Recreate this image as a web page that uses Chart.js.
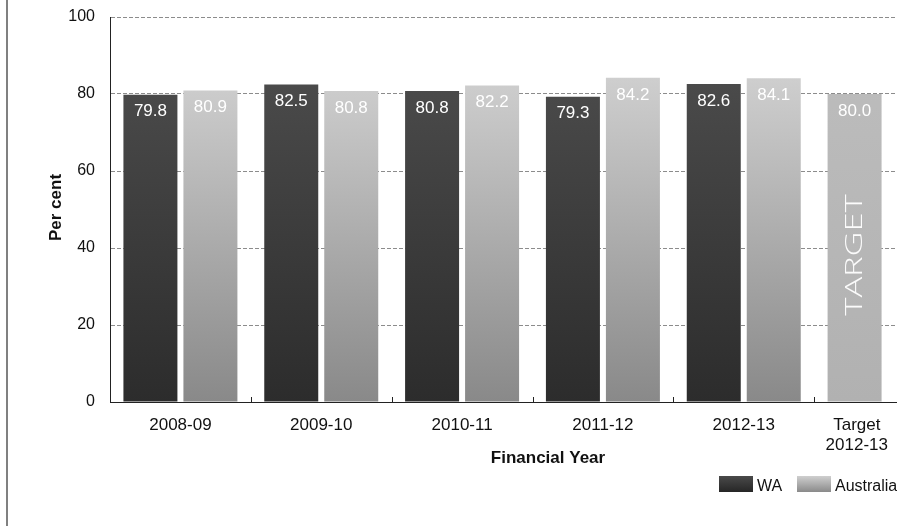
<!DOCTYPE html>
<html>
<head>
<meta charset="utf-8">
<script src="https://cdn.jsdelivr.net/npm/chart.js@4/dist/chart.umd.min.js"></script>
<style>
  html, body { margin: 0; padding: 0; background: #fff; overflow: hidden; width: 897px; height: 526px; }
  #wrap { position: relative; width: 955px; height: 526px; }
</style>
</head>
<body>
<div id="wrap"><canvas id="c" width="955" height="526"></canvas></div>
<script>
// Financial years on the category axis (last one is the 2012-13 target)
const categories = ['2008-09', '2009-10', '2010-11', '2011-12', '2012-13', ['Target', '2012-13']];
// Per cent, Western Australia
const waValues = [79.8, 82.5, 80.8, 79.3, 82.6, null];
// Per cent, Australia
const ausValues = [80.9, 80.8, 82.2, 84.2, 84.1, null];
// Target value for 2012-13
const targetValues = [null, null, null, null, null, 80.0];
const yTicks = [0, 20, 40, 60, 80, 100];
const seriesNames = ['WA', 'Australia'];

const FONT = "'Liberation Sans', Arial, Helvetica, sans-serif";

function vGradient(chart, top, bottom, cTop, cBottom) {
  const g = chart.ctx.createLinearGradient(0, top, 0, bottom);
  g.addColorStop(0, cTop);
  g.addColorStop(1, cBottom);
  return g;
}

function barFill(cTop, cBottom) {
  return (context) => {
    const chart = context.chart;
    const y = chart.scales.y;
    if (!chart.chartArea || !y) return cBottom;
    return vGradient(chart, y.getPixelForValue(85), y.getPixelForValue(0), cTop, cBottom);
  };
}

const decor = {
  id: 'decor',
  beforeDraw(chart) {
    const ctx = chart.ctx;
    ctx.save();
    ctx.fillStyle = '#ffffff';
    ctx.fillRect(0, 0, chart.width, chart.height);
    // frame line on the left side
    ctx.fillStyle = '#808080';
    ctx.fillRect(6, 0, 2, chart.height);
    ctx.restore();
  },
  afterDatasetsDraw(chart) {
    const ctx = chart.ctx;
    ctx.save();
    // value labels inside the top of each bar
    ctx.font = '17px ' + FONT;
    ctx.fillStyle = '#ffffff';
    ctx.textAlign = 'center';
    ctx.textBaseline = 'middle';
    chart.data.datasets.forEach((ds, di) => {
      const meta = chart.getDatasetMeta(di);
      meta.data.forEach((el, i) => {
        const v = ds.data[i];
        if (v === null || v === undefined) return;
        ctx.fillText(v.toFixed(1), el.x, el.y + 17);
      });
    });
    // vertical caption on the target bar
    const tMeta = chart.getDatasetMeta(1);
    targetValues.forEach((v, i) => {
      if (v === null) return;
      const el = tMeta.data[i];
      ctx.save();
      ctx.translate(el.x, 255);
      ctx.rotate(-Math.PI / 2);
      ctx.scale(1.5, 1);
      ctx.font = "300 23px 'Open Sans', Lato, " + FONT;
      ctx.fillStyle = 'rgba(255,255,255,0.95)';
      ctx.textAlign = 'center';
      ctx.textBaseline = 'middle';
      ctx.fillText('TARGET', 0, 1);
      ctx.restore();
    });
    ctx.restore();
  },
  afterDraw(chart) {
    const ctx = chart.ctx;
    const xs = chart.scales.x;
    const area = chart.chartArea;
    ctx.save();
    // small tick marks between category groups
    const half = (xs.getPixelForValue(1) - xs.getPixelForValue(0)) / 2;
    ctx.strokeStyle = '#222';
    ctx.lineWidth = 1;
    for (let i = 1; i <= categories.length; i++) {
      const x = Math.round(xs.getPixelForValue(i) - half) + 0.5;
      ctx.beginPath();
      ctx.moveTo(x, area.bottom - 5);
      ctx.lineTo(x, area.bottom);
      ctx.stroke();
    }
    // category labels, kept inside the visible frame
    ctx.font = '17px ' + FONT;
    ctx.fillStyle = '#111';
    ctx.textAlign = 'center';
    ctx.textBaseline = 'alphabetic';
    categories.forEach((lab, i) => {
      const lines = Array.isArray(lab) ? lab : [lab];
      const w = Math.max(...lines.map(l => ctx.measureText(l).width));
      let x = xs.getPixelForValue(i);
      x = Math.min(x, 888 - w / 2);
      lines.forEach((l, k) => ctx.fillText(l, x, 430 + k * 20));
    });
    // axis titles
    ctx.font = 'bold 17px ' + FONT;
    ctx.fillText('Financial Year', 548, 463);
    ctx.save();
    ctx.translate(61, (area.top + area.bottom) / 2 - 2);
    ctx.rotate(-Math.PI / 2);
    ctx.fillText('Per cent', 0, 0);
    ctx.restore();
    // legend
    const sw = [
      { x: 719, name: seriesNames[0], top: '#4a4a4a', bottom: '#262626', tx: 757 },
      { x: 797, name: seriesNames[1], top: '#cfcfcf', bottom: '#8a8a8a', tx: 835 }
    ];
    ctx.font = '16px ' + FONT;
    ctx.textAlign = 'left';
    sw.forEach(s => {
      ctx.fillStyle = vGradient(chart, 476, 492, s.top, s.bottom);
      ctx.fillRect(s.x, 476, 34, 16);
      ctx.fillStyle = '#111';
      ctx.fillText(s.name, s.tx, 491);
    });
    ctx.restore();
  }
};

new Chart(document.getElementById('c'), {
  type: 'bar',
  data: {
    labels: categories,
    datasets: [
      { label: seriesNames[0], data: waValues, stack: 'wa', backgroundColor: barFill('#4b4b4b', '#2c2c2c') },
      { label: 'Target', data: targetValues, stack: 'wa', backgroundColor: barFill('#bcbcbc', '#b1b1b1') },
      { label: seriesNames[1], data: ausValues, stack: 'aus', backgroundColor: barFill('#cfcfcf', '#898989') }
    ]
  },
  options: {
    responsive: false,
    animation: false,
    events: [],
    categoryPercentage: 0.852,
    barPercentage: 0.9,
    layout: { padding: { top: 17, left: 0, right: 0, bottom: 0 } },
    plugins: { legend: { display: false }, tooltip: { enabled: false } },
    scales: {
      x: {
        type: 'category',
        offset: true,
        grid: { display: false, drawTicks: false },
        border: { display: true, color: '#222', width: 1 },
        ticks: { display: false },
        afterFit(s) { s.height = 124; }
      },
      y: {
        min: 0,
        max: 100,
        afterBuildTicks(s) { s.ticks = yTicks.map(v => ({ value: v })); },
        ticks: { padding: 15, color: '#111', font: { family: FONT, size: 16 } },
        grid: { color: '#8c8c8c', lineWidth: 1, drawTicks: false },
        border: { display: true, color: '#222', width: 1, dash: [4, 2] },
        afterFit(s) { s.width = 110; s.paddingTop = 0; s.paddingBottom = 0; }
      }
    }
  },
  plugins: [decor]
});
</script>
</body>
</html>
